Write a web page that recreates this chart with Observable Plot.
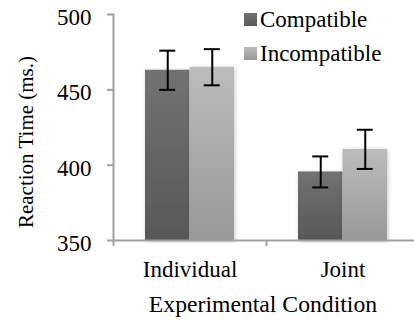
<!DOCTYPE html>
<html>
<head>
<meta charset="utf-8">
<script src="https://cdn.jsdelivr.net/npm/d3@7"></script>
<script src="https://cdn.jsdelivr.net/npm/@observablehq/plot@0.6"></script>
<style>
  html, body { margin: 0; padding: 0; background: #fff; }
  #chart { position: relative; width: 414px; height: 326px; overflow: hidden; }
  svg { font-family: "Liberation Serif", "Times New Roman", serif; }
</style>
</head>
<body>
<div id="chart"></div>
<script>
// ---- data ----
const conditions = ["Individual", "Joint"];
const series = ["Compatible", "Incompatible"];
const compatibleRT = [463, 395.5];
const incompatibleRT = [465, 410.5];
const compatibleErr = [13, 10.3];
const incompatibleErr = [12, 13];
const yTicks = [350, 400, 450, 500];
const yLabel = "Reaction Time (ms.)";
const xLabel = "Experimental Condition";

const rows = conditions.flatMap((c, i) => [
  {condition: c, series: series[0], rt: compatibleRT[i], err: compatibleErr[i]},
  {condition: c, series: series[1], rt: incompatibleRT[i], err: incompatibleErr[i]}
]);
const compatRows = rows.filter(d => d.series === series[0]);
const incompRows = rows.filter(d => d.series === series[1]);

// ---- layout ----
const W = 414, H = 326, mL = 113, mR = -5, mT = 14, mB = 86;
const pInner = 0.418, pOuter = 0.209;
const step = (W - mR - mL) / (conditions.length - pInner + 2 * pOuter);
const bw = step * (1 - pInner);
const half = bw / 2;
const capW = 16;
const capInset = (bw - capW) / 2;
const axisGray = "#a0a0a0";
const fs = 23;
const ink = "#000";

const lo = d => d.rt - d.err;
const hi = d => d.rt + d.err;
const errStyle = {stroke: "#000", strokeWidth: 2};

const plot = Plot.plot({
  width: W, height: H,
  marginLeft: mL, marginRight: mR, marginTop: mT, marginBottom: mB,
  style: {fontFamily: '"Liberation Serif", "Times New Roman", serif', fontSize: fs + "px", color: ink, background: "transparent"},
  x: {domain: conditions, paddingInner: pInner, paddingOuter: pOuter},
  y: {domain: [yTicks[0], yTicks[yTicks.length - 1]]},
  color: {domain: series, range: ["url(#gDark)", "url(#gLight)"]},
  marks: [
    Plot.axisY({ticks: yTicks, tickSize: 6, tickFormat: () => "", label: null, stroke: axisGray, strokeWidth: 2}),
    Plot.axisY({ticks: yTicks, tickSize: 0, tickPadding: 22, dy: 3, label: null, fontSize: fs, fill: ink}),
    Plot.frame({anchor: "left", stroke: axisGray, strokeWidth: 2}),
    Plot.axisX({tickSize: 6, tickFormat: () => "", dx: -step / 2, label: null, stroke: axisGray, strokeWidth: 2}),
    Plot.axisX({tickSize: 0, tickPadding: 20, label: null, fontSize: fs, fill: ink}),
    Plot.barY(compatRows, {x: "condition", y1: yTicks[0], y2: "rt", fill: "series", insetRight: half, className: "bar"}),
    Plot.barY(incompRows, {x: "condition", y1: yTicks[0], y2: "rt", fill: "series", insetLeft: half, className: "bar"}),
    Plot.ruleY([yTicks[0]], {stroke: axisGray, strokeWidth: 2}),
    Plot.ruleX(compatRows, {x: "condition", y1: lo, y2: hi, dx: -bw / 4, ...errStyle}),
    Plot.ruleX(incompRows, {x: "condition", y1: lo, y2: hi, dx: bw / 4, ...errStyle}),
    Plot.tickY(compatRows, {x: "condition", y: lo, dx: -bw / 4, insetLeft: capInset, insetRight: capInset, ...errStyle}),
    Plot.tickY(compatRows, {x: "condition", y: hi, dx: -bw / 4, insetLeft: capInset, insetRight: capInset, ...errStyle}),
    Plot.tickY(incompRows, {x: "condition", y: lo, dx: bw / 4, insetLeft: capInset, insetRight: capInset, ...errStyle}),
    Plot.tickY(incompRows, {x: "condition", y: hi, dx: bw / 4, insetLeft: capInset, insetRight: capInset, ...errStyle})
  ]
});

const svg = d3.select(plot);
const defs = svg.insert("defs", ":first-child");
function grad(id, top, bottom) {
  const g = defs.append("linearGradient").attr("id", id).attr("x1", 0).attr("y1", 0).attr("x2", 0).attr("y2", 1);
  g.append("stop").attr("offset", "0%").attr("stop-color", top);
  g.append("stop").attr("offset", "100%").attr("stop-color", bottom);
}
grad("gDark", "#727272", "#585858");
grad("gLight", "#bcbcbc", "#989898");
const f = defs.append("filter").attr("id", "shadow").attr("x", "-20%").attr("y", "-10%").attr("width", "140%").attr("height", "120%");
f.append("feDropShadow").attr("dx", 1).attr("dy", 1).attr("stdDeviation", 2).attr("flood-color", "#000").attr("flood-opacity", 0.22);
svg.selectAll("g.bar").attr("filter", "url(#shadow)");

// axis titles
svg.append("text").attr("transform", "translate(33,142) rotate(-90)")
  .attr("text-anchor", "middle").attr("font-size", 21).attr("fill", ink).text(yLabel);
svg.append("text").attr("x", 263).attr("y", 312)
  .attr("text-anchor", "middle").attr("font-size", 23.7).attr("fill", ink).text(xLabel);

// legend
const leg = svg.append("g").attr("transform", "translate(244,0)");
series.forEach((s, i) => {
  const g = leg.append("g").attr("transform", `translate(0,${i * 34})`);
  g.append("rect").attr("x", 0).attr("y", 13).attr("width", 13).attr("height", 13)
    .attr("fill", i === 0 ? "url(#gDark)" : "url(#gLight)");
  g.append("text").attr("x", 16).attr("y", 27).attr("text-anchor", "start")
    .attr("font-size", fs).attr("fill", ink).text(s);
});

document.getElementById("chart").appendChild(plot);
</script>
</body>
</html>
